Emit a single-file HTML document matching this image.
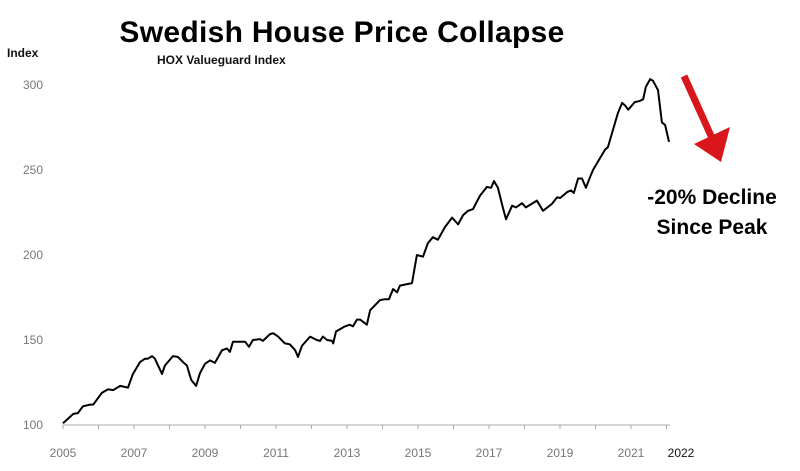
<!DOCTYPE html>
<html><head><meta charset="utf-8"><style>
body{margin:0;background:#fff;width:800px;height:466px;overflow:hidden;font-family:"Liberation Sans",sans-serif}
</style></head><body>
<svg width="800" height="466" xmlns="http://www.w3.org/2000/svg">
<text x="342" y="42" text-anchor="middle" font-size="30" font-weight="bold" fill="#000" style="letter-spacing:0.3px">Swedish House Price Collapse</text>
<text x="157" y="64" font-size="12" font-weight="bold" fill="#111">HOX Valueguard Index</text>
<text x="7" y="57" font-size="12" font-weight="bold" fill="#111">Index</text>
<g id="yticks"></g>
<g id="xaxis"></g>
<path id="line" fill="none" stroke="#000" stroke-width="2" stroke-linejoin="round"/>
<g>
<line x1="684" y1="76" x2="712" y2="138" stroke="#d8161b" stroke-width="7"/>
<polygon points="694,144 730,127 721,162" fill="#d8161b"/>
</g>
<text x="712" y="204" text-anchor="middle" font-size="21" font-weight="bold" fill="#000">-20% Decline</text>
<text x="712" y="234" text-anchor="middle" font-size="21" font-weight="bold" fill="#000">Since Peak</text>
</svg>
<script>
const dates=[2005.00,2005.29,2005.42,2005.56,2005.76,2005.85,2006.10,2006.27,2006.41,2006.61,2006.83,2006.97,2007.17,2007.31,2007.39,2007.51,2007.59,2007.79,2007.87,2008.10,2008.24,2008.38,2008.49,2008.61,2008.75,2008.86,2009.00,2009.14,2009.28,2009.48,2009.62,2009.70,2009.79,2009.99,2010.13,2010.24,2010.35,2010.55,2010.63,2010.83,2010.92,2011.06,2011.25,2011.39,2011.54,2011.62,2011.73,2011.96,2012.15,2012.24,2012.32,2012.44,2012.58,2012.61,2012.69,2012.94,2013.08,2013.17,2013.28,2013.37,2013.56,2013.65,2013.93,2014.07,2014.18,2014.30,2014.41,2014.49,2014.83,2014.97,2015.14,2015.28,2015.42,2015.56,2015.76,2015.96,2016.13,2016.27,2016.41,2016.55,2016.75,2016.94,2017.06,2017.14,2017.25,2017.39,2017.48,2017.65,2017.76,2017.93,2018.04,2018.35,2018.52,2018.77,2018.92,2019.00,2019.20,2019.31,2019.39,2019.51,2019.62,2019.73,2019.85,2019.93,2020.07,2020.27,2020.35,2020.49,2020.63,2020.75,2020.83,2020.92,2021.11,2021.23,2021.34,2021.42,2021.54,2021.62,2021.76,2021.87,2021.96,2022.07];
const values=[101,106.5,107,111,112,112,119,121,120.5,123,122,130,137,139,139,140.5,139,130,135,140.5,140,137,135,126.5,123,130.5,136,138,136.5,144,145,143,149,149,149,146,150,150.5,149.5,153.5,154,152,148,147.5,144,140,146.5,152,150,149.5,152,150,149.5,148,155,158,159,158,162,162,159,167.5,173.5,174,174,180,178,182,183.5,200,199,207,210.5,209,216.5,222,218,223.5,226,227,235,240,239.5,243.5,239.5,228,221,229,228,230.5,228,232,226,230,234,233.5,237,238,236.5,245,245,239.5,246,250,255,262,263.5,273.5,283.5,289.5,288,285.5,290,290.5,291.5,299,303.5,302.5,297,278,276.5,266.5,257.5];
const yTicks=[100,150,200,250,300];
const xLabels=[2005,2007,2009,2011,2013,2015,2017,2019,2021];
const NS="http://www.w3.org/2000/svg";
const X=t=>63+(t-2005)*35.5;
const Y=v=>425-(v-100)*1.7;
const yt=document.getElementById('yticks');
yTicks.forEach(v=>{const t=document.createElementNS(NS,'text');


t.setAttribute('x',43);t.setAttribute('y',Y(v)+4);t.setAttribute('text-anchor','end');t.setAttribute('font-size','12');t.setAttribute('fill','#777');t.textContent=v;yt.appendChild(t);});
const xa=document.getElementById('xaxis');
const ax=document.createElementNS(NS,'line');


ax.setAttribute('x1',X(2005));ax.setAttribute('x2',670);ax.setAttribute('y1',425);ax.setAttribute('y2',425);ax.setAttribute('stroke','#aaa');xa.appendChild(ax);
for(let yr=2005;yr<=2022;yr++){const tk=document.createElementNS(NS,'line');


tk.setAttribute('x1',X(yr));tk.setAttribute('x2',X(yr));tk.setAttribute('y1',425);tk.setAttribute('y2',429);tk.setAttribute('stroke','#aaa');xa.appendChild(tk);}
xLabels.forEach(yr=>{const t=document.createElementNS(NS,'text');


t.setAttribute('x',X(yr));t.setAttribute('y',457);t.setAttribute('text-anchor','middle');t.setAttribute('font-size','12');t.setAttribute('fill','#777');t.textContent=yr;xa.appendChild(t);});
const l22=document.createElementNS(NS,'text');


l22.setAttribute('x',681);l22.setAttribute('y',457);l22.setAttribute('text-anchor','middle');l22.setAttribute('font-size','12');l22.setAttribute('fill','#111');l22.textContent='2022';xa.appendChild(l22);
document.getElementById('line').setAttribute('d',dates.map((d,i)=>(i?'L':'M')+X(d).toFixed(1)+','+Y(values[i]).toFixed(1)).join(''));
</script>
</body></html>
